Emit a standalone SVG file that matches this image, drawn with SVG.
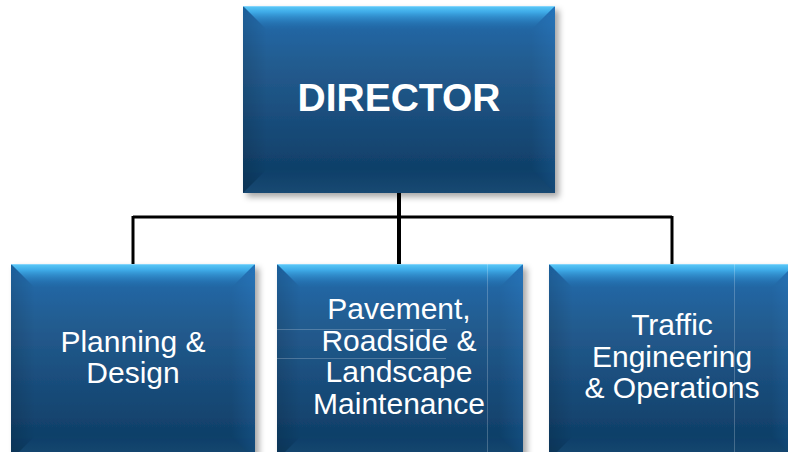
<svg xmlns="http://www.w3.org/2000/svg" width="788" height="452" viewBox="0 0 788 452">
  <defs>
    <linearGradient id="body" x1="0" y1="0" x2="0" y2="1">
      <stop offset="0" stop-color="#1f6db0"/>
      <stop offset="0.3" stop-color="#245c90"/>
      <stop offset="1" stop-color="#0b3960"/>
    </linearGradient>
    <linearGradient id="topBevel" x1="0" y1="0" x2="0" y2="1">
      <stop offset="0" stop-color="#5ccbf8" stop-opacity="1"/>
      <stop offset="0.25" stop-color="#42b2ee" stop-opacity="0.9"/>
      <stop offset="1" stop-color="#2070b3" stop-opacity="0"/>
    </linearGradient>
    <linearGradient id="leftBevel" x1="0" y1="0" x2="1" y2="0">
      <stop offset="0" stop-color="#000" stop-opacity="0.12"/>
      <stop offset="1" stop-color="#000" stop-opacity="0"/>
    </linearGradient>
    <linearGradient id="rightBevel" x1="1" y1="0" x2="0" y2="0">
      <stop offset="0" stop-color="#3aa0ff" stop-opacity="0.14"/>
      <stop offset="1" stop-color="#3aa0ff" stop-opacity="0"/>
    </linearGradient>
    <linearGradient id="bottomBevel" x1="0" y1="1" x2="0" y2="0">
      <stop offset="0" stop-color="#4a8fc8" stop-opacity="0.18"/>
      <stop offset="1" stop-color="#4a8fc8" stop-opacity="0"/>
    </linearGradient>
    <filter id="shadow" x="-10%" y="-10%" width="125%" height="125%">
      <feDropShadow dx="4" dy="4" stdDeviation="3" flood-color="#000" flood-opacity="0.35"/>
    </filter>
    <style>
      .body { fill: url(#body); }
      .top { fill: url(#topBevel); }
      .left { fill: url(#leftBevel); }
      .right { fill: url(#rightBevel); }
      .bottom { fill: url(#bottomBevel); }
      .edge { fill: none; stroke: #9fdcff; stroke-width: 1; stroke-opacity: 0.6; }
      .title { font-family: "Liberation Sans", Arial, sans-serif; font-weight: bold; font-size: 39px; fill: #ffffff; text-anchor: middle; }
      .label { font-family: "Liberation Sans", Arial, sans-serif; font-size: 30px; fill: #ffffff; text-anchor: middle; }
      .conn { stroke: #000000; stroke-width: 3; fill: none; }
      .trunk { stroke-width: 4; }
      .artifact { stroke: #ffffff; stroke-opacity: 0.22; stroke-width: 1; fill: none; }
    </style>
  </defs>

  <g id="connectors">
    <path class="conn trunk" d="M399 193 V217"/>
    <path class="conn" d="M133 217 H672"/>
    <path class="conn" d="M133 216 V264"/>
    <path class="conn trunk" d="M399 216 V264"/>
    <path class="conn" d="M672 216 V264"/>
  </g>

  <g id="director">
    <g filter="url(#shadow)">
      <rect class="body" x="243" y="6" width="312" height="187"/>
    </g>
    <polygon class="top" points="243,6 555,6 531,30 267,30"/>
    <polygon class="left" points="243,6 267,30 267,169 243,193"/>
    <polygon class="right" points="555,6 555,193 531,169 531,30"/>
    <polygon class="bottom" points="243,193 267,169 531,169 555,193"/>
    <line class="edge" x1="243" y1="6.5" x2="555" y2="6.5"/>
    <text class="title" x="399" y="111">DIRECTOR</text>
  </g>

  <g id="planning-design">
    <g filter="url(#shadow)">
      <rect class="body" x="11" y="264" width="244" height="196"/>
    </g>
    <polygon class="top" points="11,264 255,264 231,288 35,288"/>
    <polygon class="left" points="11,264 35,288 35,436 11,460"/>
    <polygon class="right" points="255,264 255,460 231,436 231,288"/>
    <polygon class="bottom" points="11,460 35,436 231,436 255,460"/>
    <line class="edge" x1="11" y1="264.5" x2="255" y2="264.5"/>
    <text class="label" x="133" y="352">Planning &amp;</text>
    <text class="label" x="133" y="383">Design</text>
  </g>

  <g id="pavement-maintenance">
    <g filter="url(#shadow)">
      <rect class="body" x="277" y="264" width="246" height="196"/>
    </g>
    <polygon class="top" points="277,264 523,264 499,288 301,288"/>
    <polygon class="left" points="277,264 301,288 301,436 277,460"/>
    <polygon class="right" points="523,264 523,460 499,436 499,288"/>
    <polygon class="bottom" points="277,460 301,436 499,436 523,460"/>
    <line class="edge" x1="277" y1="264.5" x2="523" y2="264.5"/>
    <path class="artifact" d="M487.5 264 V452 M277 329.5 H446 M277 358.5 H446"/>
    <text class="label" x="399" y="319">Pavement,</text>
    <text class="label" x="399" y="350.5">Roadside &amp;</text>
    <text class="label" x="399" y="382">Landscape</text>
    <text class="label" x="399" y="413.5">Maintenance</text>
  </g>

  <g id="traffic-operations">
    <g filter="url(#shadow)">
      <rect class="body" x="549" y="264" width="246" height="196"/>
    </g>
    <polygon class="top" points="549,264 795,264 771,288 573,288"/>
    <polygon class="left" points="549,264 573,288 573,436 549,460"/>
    <polygon class="right" points="795,264 795,460 771,436 771,288"/>
    <polygon class="bottom" points="549,460 573,436 771,436 795,460"/>
    <line class="edge" x1="549" y1="264.5" x2="795" y2="264.5"/>
    <path class="artifact" d="M734.5 264 V452"/>
    <text class="label" x="672" y="335">Traffic</text>
    <text class="label" x="672" y="366.5">Engineering</text>
    <text class="label" x="672" y="398">&amp; Operations</text>
  </g>
</svg>
